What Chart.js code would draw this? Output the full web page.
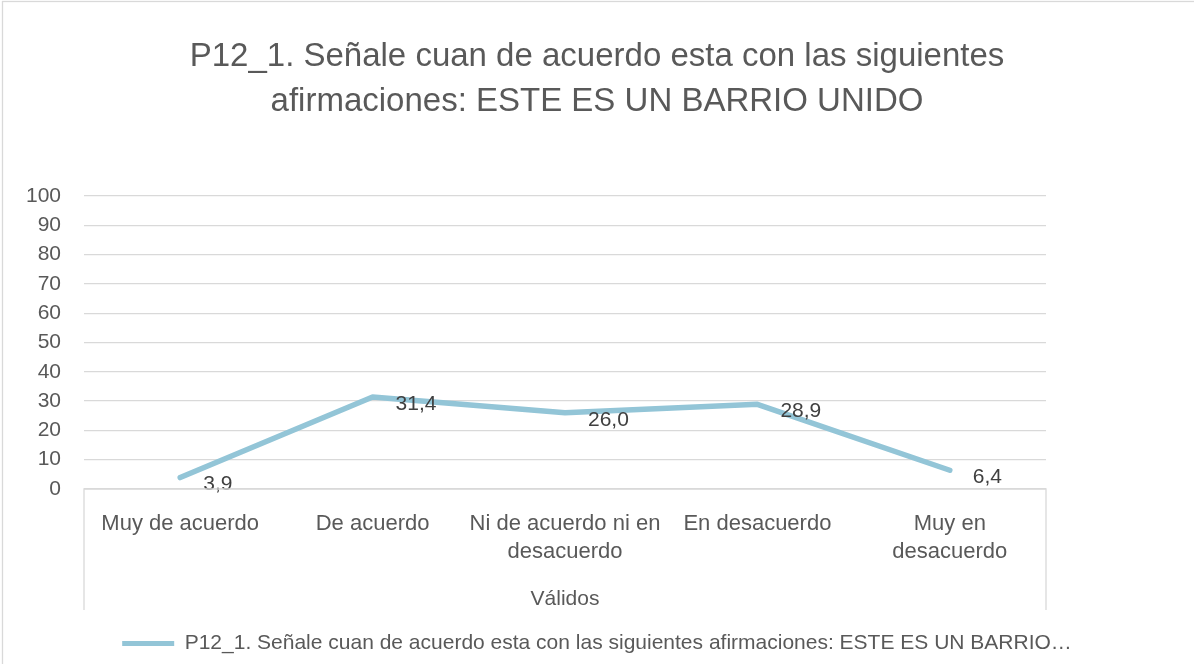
<!DOCTYPE html>
<html>
<head>
<meta charset="utf-8">
<script src="https://cdn.jsdelivr.net/npm/chart.js@4.4.1/dist/chart.umd.min.js"></script>
<style>
  html, body { margin: 0; padding: 0; background: #ffffff; }
  #wrap { width: 1194px; height: 664px; position: relative; }
</style>
</head>
<body>
<div id="wrap"><canvas id="c" width="1194" height="664"></canvas></div>
<script>
// ---- data ----
const titleLines = ['P12_1. Señale cuan de acuerdo esta con las siguientes', 'afirmaciones: ESTE ES UN BARRIO UNIDO'];
const categories = ['Muy de acuerdo', 'De acuerdo', ['Ni de acuerdo ni en', 'desacuerdo'], 'En desacuerdo', ['Muy en', 'desacuerdo']];
const groupLabel = 'Válidos';
const seriesName = 'P12_1. Señale cuan de acuerdo esta con las siguientes afirmaciones: ESTE ES UN BARRIO UNIDO';
const legendText = 'P12_1. Señale cuan de acuerdo esta con las siguientes afirmaciones: ESTE ES UN BARRIO…';
const seriesValues = [3.9, 31.4, 26.0, 28.9, 6.4];
const yTicks = [0, 10, 20, 30, 40, 50, 60, 70, 80, 90, 100];

const FONT = '"Liberation Sans", Arial, sans-serif';
const TEXT = '#595959';
const GRID = '#D9D9D9';
const LINE = '#93C5D7';

const bgPlugin = {
  id: 'bg',
  beforeDraw(chart) {
    const ctx = chart.ctx;
    ctx.save();
    ctx.fillStyle = '#ffffff';
    ctx.fillRect(0, 0, chart.width, chart.height);
    ctx.strokeStyle = GRID;
    ctx.lineWidth = 1.3;
    ctx.strokeRect(2.5, 1.5, chart.width + 10, chart.height + 10);
    ctx.restore();
  }
};

const boxPlugin = {
  id: 'catBox',
  afterDraw(chart) {
    const a = chart.chartArea;
    const ctx = chart.ctx;
    ctx.save();
    ctx.strokeStyle = GRID;
    ctx.lineWidth = 1.3;
    ctx.beginPath();
    ctx.moveTo(a.left, a.bottom + 121);
    ctx.lineTo(a.left, a.bottom);
    ctx.lineTo(a.right, a.bottom);
    ctx.lineTo(a.right, a.bottom + 121);
    ctx.stroke();
    ctx.restore();
  }
};

const labelPlugin = {
  id: 'valLabels',
  afterDatasetsDraw(chart) {
    const ctx = chart.ctx;
    const meta = chart.getDatasetMeta(0);
    ctx.save();
    ctx.fillStyle = '#404040';
    ctx.font = '21px ' + FONT;
    ctx.textAlign = 'left';
    ctx.textBaseline = 'middle';
    meta.data.forEach((pt, i) => {
      const v = chart.data.datasets[0].data[i];
      ctx.fillText(v.toFixed(1).replace('.', ','), pt.x + 23, pt.y + 7);
    });
    ctx.restore();
  }
};

new Chart(document.getElementById('c'), {
  type: 'line',
  data: {
    labels: categories,
    datasets: [{
      label: seriesName,
      data: seriesValues,
      borderColor: LINE,
      backgroundColor: LINE,
      borderWidth: 5.5,
      borderCapStyle: 'round',
      borderJoinStyle: 'round',
      pointRadius: 0,
      pointHoverRadius: 0,
      tension: 0,
      fill: false
    }]
  },
  options: {
    responsive: false,
    animation: false,
    devicePixelRatio: 1,
    layout: { padding: { left: 0, right: 0, top: 0, bottom: 0 } },
    plugins: {
      tooltip: { enabled: false },
      title: {
        display: true,
        text: titleLines,
        color: TEXT,
        font: { family: FONT, size: 33, weight: 'normal', lineHeight: 1.364 },
        padding: { top: 34, bottom: 72 }
      },
      legend: {
        display: true,
        position: 'bottom',
        labels: {
          color: TEXT,
          font: { family: FONT, size: 21 },
          boxWidth: 52,
          boxHeight: 5,
          useBorderRadius: true,
          borderRadius: 2.5,
          padding: 10,
          generateLabels(chart) {
            const ds = chart.data.datasets[0];
            return [{
              text: legendText,
              fillStyle: ds.borderColor,
              strokeStyle: ds.borderColor,
              lineWidth: 0,
              hidden: false,
              datasetIndex: 0,
              fontColor: TEXT
            }];
          }
        }
      }
    },
    scales: {
      x: {
        type: 'category',
        offset: true,
        grid: { display: false, drawTicks: false },
        border: { display: false },
        ticks: {
          color: TEXT,
          font: { family: FONT, size: 22, lineHeight: 1.273 },
          padding: 21,
          autoSkip: false,
          maxRotation: 0,
          minRotation: 0
        },
        title: {
          display: true,
          text: groupLabel,
          color: TEXT,
          font: { family: FONT, size: 21 },
          padding: { top: 0, bottom: 11 }
        },
        afterFit(scale) { scale.height = 134; }
      },
      y: {
        type: 'linear',
        min: 0,
        max: 100,
        afterBuildTicks(scale) { scale.ticks = yTicks.map(v => ({ value: v })); },
        grid: { color: GRID, lineWidth: 1.3, drawTicks: false },
        border: { display: false },
        ticks: {
          color: TEXT,
          font: { family: FONT, size: 21 },
          padding: 23
        },
        afterFit(scale) { scale.width = 84; }
      },
      yR: {
        type: 'linear',
        position: 'right',
        display: true,
        grid: { display: false, drawTicks: false },
        border: { display: false },
        ticks: { display: false },
        afterFit(scale) { scale.width = 148; }
      }
    }
  },
  plugins: [bgPlugin, boxPlugin, labelPlugin]
});
</script>
</body>
</html>
